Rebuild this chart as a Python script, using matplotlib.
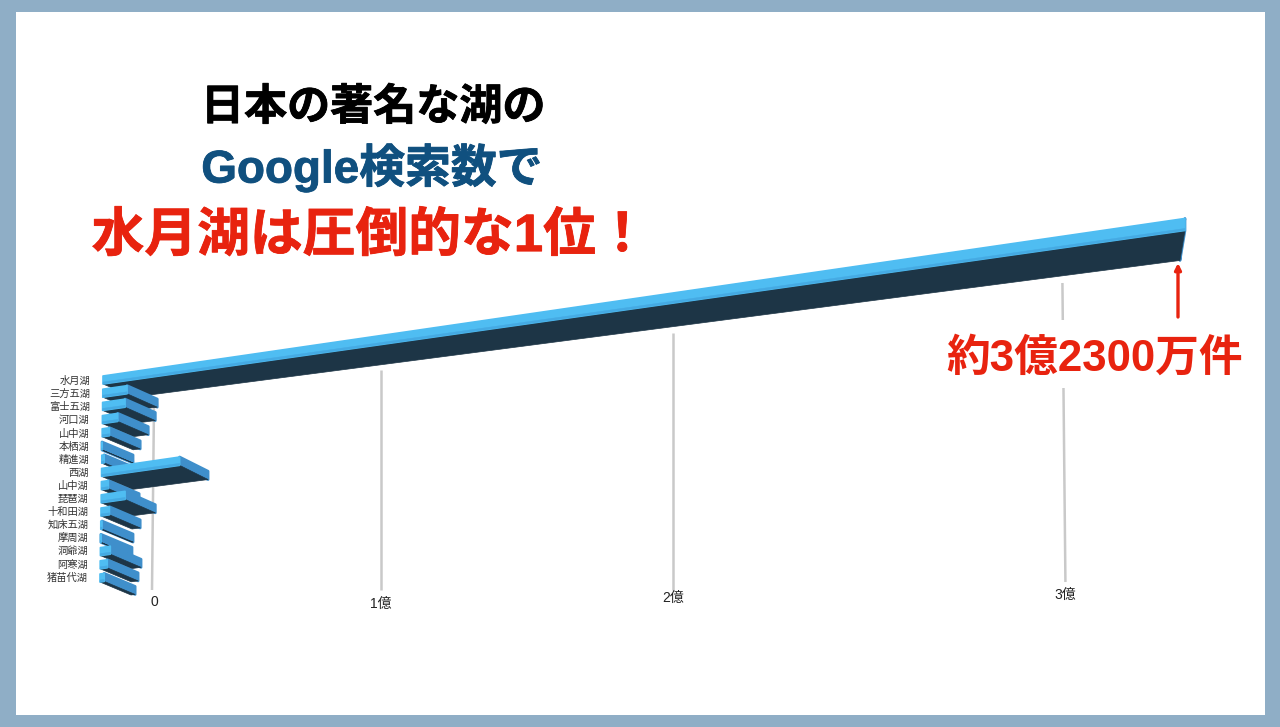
import matplotlib
matplotlib.use("Agg")
import matplotlib.pyplot as plt
import matplotlib.patheffects as pe
from matplotlib.patches import Polygon, Rectangle

plt.rcParams['font.family'] = ['Liberation Sans', 'Noto Sans CJK JP', 'DejaVu Sans']

lakes = ["水月湖", "三方五湖", "富士五湖", "河口湖", "山中湖", "本栖湖", "精進湖", "西湖",
         "山中湖", "琵琶湖", "十和田湖", "知床五湖", "摩周湖", "洞爺湖", "阿寒湖", "猪苗代湖"]
# search counts in 億
hits = [3.23, 0.138, 0.129, 0.096, 0.058, 0.024, 0.034, 0.368,
        0.053, 0.129, 0.058, 0.024, 0.019, 0.062, 0.048, 0.034]
grid_values = [0, 1, 2, 3]
grid_labels = ["0", "1億", "2億", "3億"]

BRIGHT = "#4fbdf2"
SHADE = "#45aae3"
MID = "#3f8fcb"
DARK = "#1d3546"
RED = "#e8230f"
NAVY = "#10507f"

# the value axis runs away from the viewer, so the spacing grows with the value
PERSP = 0.1113


def grid_x(v):
    return 154 + 201.7 * v / (1 - PERSP * v)


def bar_x(v):
    # bars sit in front of the grid plane, so they have their own origin
    return 128 + 208.6 * v / (1 - PERSP * v)


def face(ax, pts, color, lw=1.0):
    ax.add_patch(Polygon(pts, closed=True, fc=color, ec=color, lw=lw, joinstyle="round", zorder=3))


def draw_bar(ax, row, v):
    left = 103 - 0.2 * row
    y0 = 376 + 13.2 * row
    far = bar_x(v)
    t = (far - 133) / 1047
    dx, dy = 31 - 36 * t, 13 + 17 * t
    h = 8 + 4 * t
    x_top = max(left, far - dx)
    y_top = y0 - 0.1456 * (x_top - left)

    cap = [(x_top, y_top), (x_top + dx, y_top + dy), (x_top + dx, y_top + dy + h), (x_top, y_top + h)]
    under = [(left, y0 + 8), (x_top, y_top + h), (x_top + dx, y_top + h + dy), (left + 31, y0 + 21)]
    front = [(left, y0), (x_top, y_top), (x_top, y_top + h), (left, y0 + 8)]
    edge = [(left, y0 + 6), (x_top, y_top + h - 2), (x_top, y_top + h), (left, y0 + 8)]
    # cap first: on the long bar it turns away and the dark side hides it
    face(ax, cap, MID, 2.0)
    if x_top > left:
        face(ax, under, DARK, 0.5)
        face(ax, front, BRIGHT, 1.2)
        face(ax, edge, SHADE, 0.3)


def heavy(color):
    return [pe.withStroke(linewidth=0.6, foreground=color)]


fig = plt.figure(figsize=(12.8, 7.27), dpi=100, facecolor="#8faec6")
ax = fig.add_axes([0, 0, 1, 1])
ax.set_xlim(0, 1280)
ax.set_ylim(727, 0)
ax.axis("off")
ax.add_patch(Rectangle((16, 12), 1249, 703, fc="white", ec="none", zorder=0))

# grid lines, the one at 3億 is cut by the annotation text
grid_tops = [405, 370, 333, 283]
grid_bottoms = [590, 590, 590, 582]
grid_lean = [-2, 0, 0, 3]
label_y = [602, 604, 598, 595]
for v, lab, top, bot, lean, ly in zip(grid_values, grid_labels, grid_tops, grid_bottoms, grid_lean, label_y):
    x = grid_x(v)
    ax.plot([x, x + lean], [top, bot], color="#c9c9c9", lw=1.8, zorder=1, solid_capstyle="butt")
    ax.text(x + max(lean, 0), ly, lab, ha="center", va="center", fontsize=10, color="#222222", zorder=2)
ax.add_patch(Rectangle((1040, 320), 60, 68, fc="white", ec="none", zorder=1.5))

for i, (name, v) in enumerate(zip(lakes, hits)):
    draw_bar(ax, i, v)
    ax.text(90 - 0.15 * i, 381 + 13.1 * i, name, ha="right", va="center", fontsize=7.4, color="#333333", zorder=4)

# title
ax.text(373, 108, "日本の著名な湖の", ha="center", va="center", fontsize=31, fontweight="bold", color="black",
        path_effects=heavy("black"))
ax.text(372, 168, "Google検索数で", ha="center", va="center", fontsize=33, fontweight="bold", color=NAVY,
        path_effects=heavy(NAVY))
ax.text(370, 237, "水月湖は圧倒的な1位！", ha="center", va="center", fontsize=38, fontweight="bold", color=RED,
        path_effects=heavy(RED))

# call-out for the top bar
ax.text(1095, 359, "約3億2300万件", ha="center", va="center", fontsize=31.5, fontweight="bold", color=RED, zorder=5)
ax.annotate("", xy=(1178, 263), xytext=(1178, 317),
            arrowprops=dict(arrowstyle="-|>", color=RED, lw=2.4, mutation_scale=9, shrinkA=0, shrinkB=0), zorder=5)

fig.savefig("out.png", dpi=100, facecolor=fig.get_facecolor())
